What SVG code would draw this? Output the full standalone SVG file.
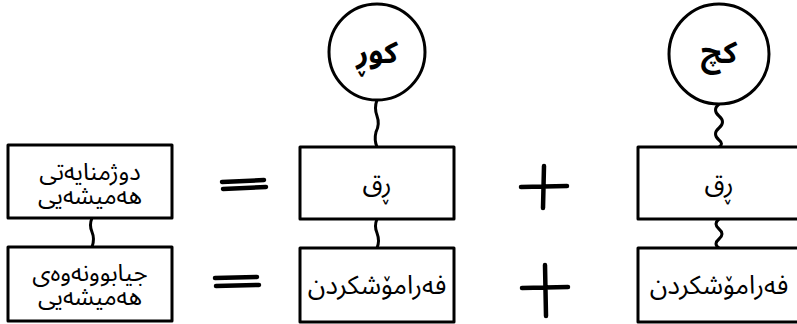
<svg xmlns="http://www.w3.org/2000/svg" width="797" height="324" viewBox="0 0 797 324">
<style>
.box{fill:#fff;stroke:#000;stroke-width:3;stroke-linejoin:round}
.circ{fill:#fff;stroke:#000;stroke-width:3}
.con{fill:none;stroke:#000;stroke-width:3;stroke-linecap:round}
.sym{fill:none;stroke:#000;stroke-width:4.5;stroke-linecap:round}
.t{font-family:"Noto Sans Arabic","DejaVu Sans",sans-serif;font-size:26px;fill:#000;text-anchor:middle}
.t2{font-family:"Noto Sans Arabic","DejaVu Sans",sans-serif;font-size:24px;fill:#000;text-anchor:middle}
.tc{font-family:"Noto Sans Arabic","DejaVu Sans",sans-serif;font-size:30px;font-weight:bold;fill:#000;text-anchor:middle}
</style>
<rect width="797" height="324" fill="#fff"/>
<g id="connectors">
<path class="con" d="M92 218 q-3 7 0 14 q3 7 0 15"/>
<path class="con" d="M377 100 q-3 8 0 16 q3 8 -1 16 q-2 8 1 15"/>
<path class="con" d="M377 219 q-3 7 0 14 q3 8 0 15"/>
<path class="con" d="M719 104 q-7 6 0 12 q7 6 0 12 q-7 6 0 12 q5 4 0 7"/>
<path class="con" d="M719 219 q-6 5 0 10 q6 5 0 10 q-6 5 0 9"/>
</g>
<g id="n-enmity">
<rect class="box" x="8" y="145" width="164" height="73"/>
<text class="t2" x="90" y="180">دوژمنایەتی</text>
<text class="t2" x="90" y="204">هەمیشەیی</text>
</g>
<g id="n-separation">
<rect class="box" x="8" y="247" width="164" height="74"/>
<text class="t2" x="90" y="281">جیابوونەوەی</text>
<text class="t2" x="90" y="305">هەمیشەیی</text>
</g>
<g id="eq1"><path class="sym" d="M222 182 L264 180 M223 189 L266 187"/></g>
<g id="eq2"><path class="sym" d="M215 278 L257 277 M216 286 L259 285"/></g>
<g id="n-boy">
<circle class="circ" cx="377" cy="52" r="48"/>
<text class="tc" x="377" y="63">کوڕ</text>
</g>
<g id="n-hate1">
<rect class="box" x="300" y="147" width="154" height="72"/>
<text class="t" x="377" y="192">ڕق</text>
</g>
<g id="n-forget1">
<rect class="box" x="300" y="248" width="154" height="74"/>
<text class="t" x="377" y="294">فەرامۆشکردن</text>
</g>
<g id="plus1"><path class="sym" d="M521 187 L567 186 M544 166 L543 208"/></g>
<g id="plus2"><path class="sym" d="M522 288 L568 287 M545 265 L546 316"/></g>
<g id="n-girl">
<circle class="circ" cx="719" cy="54" r="50"/>
<text class="tc" x="719" y="63">کچ</text>
</g>
<g id="n-hate2">
<rect class="box" x="638" y="147" width="170" height="72"/>
<text class="t" x="719" y="192">ڕق</text>
</g>
<g id="n-forget2">
<rect class="box" x="638" y="248" width="170" height="74"/>
<text class="t" x="719" y="294">فەرامۆشکردن</text>
</g>
</svg>
